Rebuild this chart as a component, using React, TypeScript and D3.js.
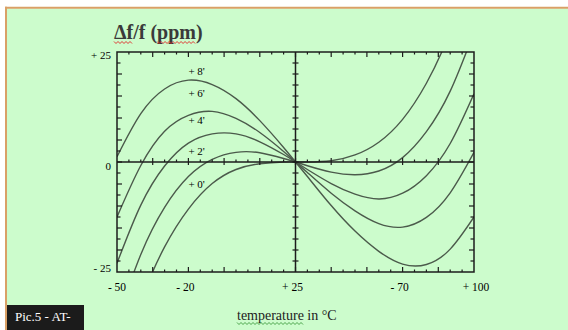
import { useEffect, useRef } from "react";
import * as d3 from "d3";

// temperature (°C) sample points, shared by all curves
const temperatures = [-50, -40, -30, -20, -10, 0, 10, 20, 25, 30, 40, 50, 60, 70, 80, 90, 100];

// Δf/f in ppm, one list per cut-angle offset
const angle0 = [-48.5, -31.7, -19.3, -10.7, -4.9, -1.7, -0.4, 0, 0, 0, 0.3, 1.6, 4.5, 9.7, 17.9, 29.7, 45.8];
const angle2 = [-36.0, -21.0, -10.3, -3.3, 0.6, 2.2, 2.1, 0.8, 0, -0.85, -2.3, -2.9, -2.05, 1.0, 6.9, 16.1, 29.5];
const angle4 = [-23.0, -9.8, -0.9, 4.3, 6.4, 6.4, 4.6, 1.7, 0, -1.7, -4.9, -7.3, -8.4, -7.1, -3.1, 4.2, 15.5];
const angle6 = [-12.5, -0.8, 7.0, 10.6, 11.5, 9.9, 6.7, 2.4, 0, -2.4, -7.1, -11.1, -14.0, -14.8, -12.6, -7.0, 2.2];
const angle8 = [1.2, 11.0, 16.6, 18.6, 17.6, 14.4, 9.4, 3.3, 0, -3.3, -9.9, -15.7, -20.3, -23.2, -23.3, -19.8, -12.5];

const curveLabels = ["+ 8'", "+ 6'", "+ 4'", "+ 2'", "+ 0'"];
const curveLabelPpm = [19.8, 14.8, 8.6, 1.7, -6.0];
const curveLabelTemp = -20;

const xTickValues = [-50, -20, 25, 70, 100];
const xTickLabels = ["- 50", "- 20", "+ 25", "- 70", "+ 100"];
const yTickValues = [25, 0, -25];
const yTickLabels = ["+ 25", "0", "- 25"];

const SERIF = "'Liberation Serif', 'Times New Roman', serif";

function squiggle(x0: number, x1: number, y: number) {
    const pts: [number, number][] = [];
    for (let x = x0, i = 0; x <= x1; x += 2, i++) {
        pts.push([x, y + (i % 2 === 0 ? -1 : 1)]);
    }
    return d3.line()(pts);
}

export default function App() {
    const ref = useRef<SVGSVGElement>(null);

    useEffect(() => {
        const svg = d3.select(ref.current);
        svg.selectAll("*").remove();

        // page + green panel with the tan border
        svg.append("rect").attr("width", 568).attr("height", 330).attr("fill", "#ffffff");
        svg.append("rect").attr("x", 7).attr("y", 8.5).attr("width", 561).attr("height", 322).attr("fill", "#ccfccc");
        svg.append("line").attr("x1", 6).attr("x2", 6).attr("y1", 6.7).attr("y2", 330)
            .attr("stroke", "#d9a066").attr("stroke-width", 2);
        svg.append("line").attr("x1", 5).attr("x2", 568).attr("y1", 7.7).attr("y2", 7.7)
            .attr("stroke", "#d9a066").attr("stroke-width", 2);

        const x = d3.scaleLinear().domain([-50, 100]).range([117, 474]);
        const y = d3.scaleLinear().domain([-25, 25]).range([272, 52]);

        const axisColor = "#1c1c1c";

        // clip for curves
        svg.append("clipPath").attr("id", "plotClip")
            .append("rect")
            .attr("x", x(-50)).attr("y", y(25))
            .attr("width", x(100) - x(-50)).attr("height", y(-25) - y(25));

        const series = [angle8, angle6, angle4, angle2, angle0];
        const line = d3.line<number>()
            .x((_, i) => x(temperatures[i]))
            .y((d) => y(d))
            .curve(d3.curveNatural);

        const curves = svg.append("g").attr("clip-path", "url(#plotClip)");
        series.forEach((values) => {
            curves.append("path")
                .datum(values)
                .attr("fill", "none")
                .attr("stroke", "#4b5a4b")
                .attr("stroke-width", 1.4)
                .attr("d", line);
        });

        // frame and cross axes
        svg.append("rect")
            .attr("x", x(-50)).attr("y", y(25))
            .attr("width", x(100) - x(-50)).attr("height", y(-25) - y(25))
            .attr("fill", "none").attr("stroke", axisColor).attr("stroke-width", 1.5);
        svg.append("line").attr("x1", x(-50)).attr("x2", x(100)).attr("y1", y(0)).attr("y2", y(0))
            .attr("stroke", axisColor).attr("stroke-width", 1.5);
        svg.append("line").attr("x1", x(25)).attr("x2", x(25)).attr("y1", y(25)).attr("y2", y(-25))
            .attr("stroke", axisColor).attr("stroke-width", 1.5);

        const ticks = svg.append("g").attr("stroke", axisColor).attr("stroke-width", 1.2);

        // temperature ticks: major every 15, minor every 5
        d3.range(-45, 100, 5).forEach((t) => {
            const major = (t + 50) % 15 === 0;
            const len = major ? 5 : 2.5;
            ticks.append("line").attr("x1", x(t)).attr("x2", x(t)).attr("y1", y(25)).attr("y2", y(25) + len);
            ticks.append("line").attr("x1", x(t)).attr("x2", x(t)).attr("y1", y(-25)).attr("y2", y(-25) - len);
            ticks.append("line").attr("x1", x(t)).attr("x2", x(t))
                .attr("y1", y(0) - (major ? 4 : 2.5)).attr("y2", y(0) + (major ? 3 : 0));
        });

        // ppm ticks every 2.5
        d3.range(-22.5, 25, 2.5).forEach((v) => {
            const major = Math.abs(v % 5) < 0.01;
            const len = major ? 5 : 3.5;
            ticks.append("line").attr("x1", x(-50)).attr("x2", x(-50) + len).attr("y1", y(v)).attr("y2", y(v));
            ticks.append("line").attr("x1", x(100) - len).attr("x2", x(100)).attr("y1", y(v)).attr("y2", y(v));
            ticks.append("line").attr("x1", x(25) - 3).attr("x2", x(25) + 3).attr("y1", y(v)).attr("y2", y(v));
        });

        // tick labels
        xTickValues.forEach((t, i) => {
            svg.append("text")
                .attr("x", x(t) + (i === 0 ? 0 : i === xTickValues.length - 1 ? 2 : -3))
                .attr("y", 291)
                .attr("text-anchor", "middle")
                .attr("font-family", SERIF)
                .attr("font-size", 11.5)
                .attr("fill", "#000")
                .text(xTickLabels[i]);
        });
        yTickValues.forEach((v, i) => {
            const shift = v > 0 ? 6.5 : v === 0 ? 8 : 0;
            svg.append("text")
                .attr("x", 111)
                .attr("y", y(v) + shift)
                .attr("text-anchor", "end")
                .attr("font-family", SERIF)
                .attr("font-size", 11)
                .attr("fill", "#000")
                .text(yTickLabels[i]);
        });

        // curve labels
        curveLabels.forEach((label, i) => {
            svg.append("text")
                .attr("x", x(curveLabelTemp))
                .attr("y", y(curveLabelPpm[i]))
                .attr("font-family", SERIF)
                .attr("font-size", 11)
                .attr("fill", "#000")
                .text(label);
        });

        // title with spell-check squiggles
        const title = svg.append("text")
            .attr("x", 114)
            .attr("y", 39)
            .attr("font-family", SERIF)
            .attr("font-size", 20)
            .attr("font-weight", "bold")
            .attr("fill", "#3a3a3a")
            .text("Δf/f (ppm)");
        const tNode = title.node() as SVGTextElement;
        const tPos = (i: number) => tNode.getStartPositionOfChar(i).x;
        const tEnd = (i: number) => tNode.getEndPositionOfChar(i).x;
        svg.append("path").attr("d", squiggle(tPos(0), tEnd(1), 42.5))
            .attr("fill", "none").attr("stroke", "#e02424").attr("stroke-width", 0.9);
        svg.append("path").attr("d", squiggle(tPos(6), tEnd(8), 42.5))
            .attr("fill", "none").attr("stroke", "#e02424").attr("stroke-width", 0.9);

        // x axis title
        const xTitle = svg.append("text")
            .attr("x", 237)
            .attr("y", 320)
            .attr("font-family", SERIF)
            .attr("font-size", 14)
            .attr("fill", "#222")
            .text("temperature in °C");
        const xNode = xTitle.node() as SVGTextElement;
        svg.append("path").attr("d", squiggle(xNode.getStartPositionOfChar(0).x, xNode.getEndPositionOfChar(10).x, 323.5))
            .attr("fill", "none").attr("stroke", "#3c9a3c").attr("stroke-width", 0.9);

        // caption box
        svg.append("rect").attr("x", 7).attr("y", 305).attr("width", 77).attr("height", 25).attr("fill", "#1b1b1b");
        svg.append("text")
            .attr("x", 15)
            .attr("y", 321)
            .attr("font-family", SERIF)
            .attr("font-size", 13)
            .attr("fill", "#ffffff")
            .text("Pic.5 - AT-");
    }, []);

    return <svg ref={ref} width={568} height={330} style={{ position: "absolute", left: 0, top: 0 }} />;
}
